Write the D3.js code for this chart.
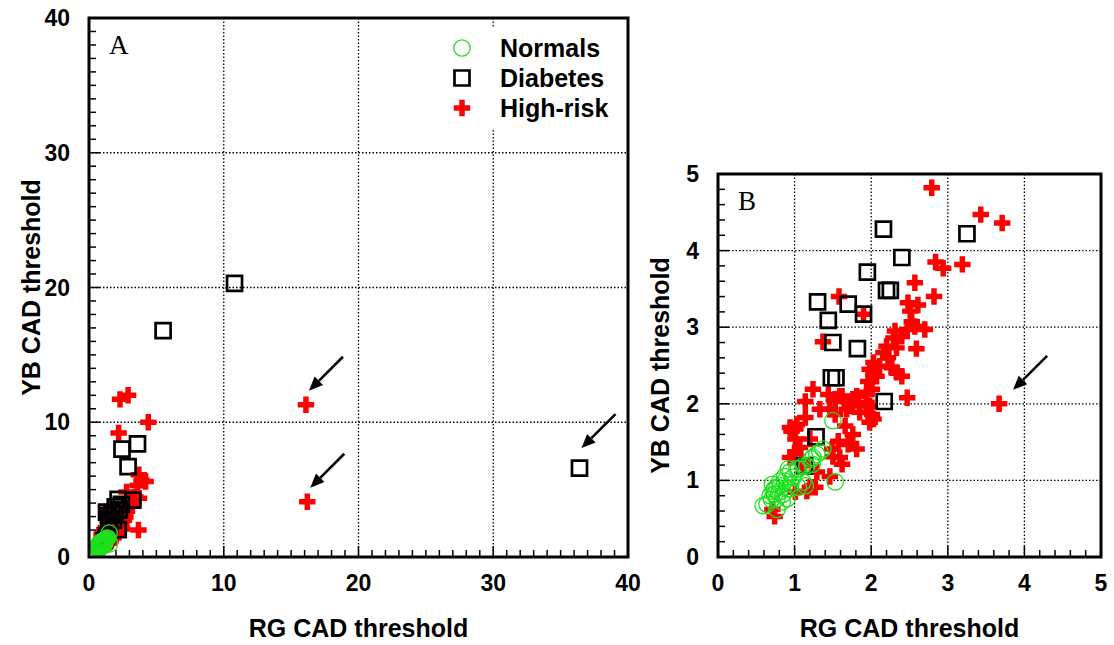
<!DOCTYPE html>
<html>
<head>
<meta charset="utf-8">
<script src="https://cdn.jsdelivr.net/npm/d3@7"></script>
<style>
  html, body { margin: 0; padding: 0; background: #fff; }
  svg text { font-family: "Liberation Sans", Arial, sans-serif; }
</style>
</head>
<body>
<svg id="chart" width="1114" height="645"></svg>
<script>
// Colour-discrimination (CAD) thresholds, RG vs YB, for three groups.
const normalsRG = [1.50,1.37,1.33,1.29,1.24,1.22,1.23,1.16,1.11,1.05,1.03,0.94,0.92,1.53,1.14,1.11,0.98,0.87,0.87,0.81,1.05,0.81,0.77,0.94,0.90,0.74,0.72,0.74,0.85,0.68,0.77,0.90,0.84,0.64,0.59,0.77,0.71,0.80,0.70,0.95];
const normalsYB = [1.78,1.41,1.37,1.34,1.30,1.28,1.21,1.19,1.19,1.15,1.15,1.11,1.15,0.98,0.93,0.98,1.04,1.05,0.99,0.99,0.91,0.93,0.91,0.89,0.89,0.89,0.86,0.82,0.82,0.80,0.76,0.76,0.72,0.69,0.67,0.62,0.95,0.85,0.75,0.95];

const diabetesRG = [2.16,3.25,2.40,1.95,1.30,1.70,2.20,2.25,1.90,1.44,1.50,1.82,1.48,1.54,2.17,1.28,1.13,36.4,10.8,5.5,3.6,2.45,2.9];
const diabetesYB = [4.28,4.22,3.91,3.72,3.33,3.30,3.48,3.48,3.17,3.09,2.80,2.72,2.34,2.34,2.03,1.57,1.19,6.6,20.3,16.8,8.4,8.0,6.7];

const highRiskRG = [2.79,3.43,3.71,2.84,2.94,3.19,2.57,2.82,1.58,1.90,1.37,2.48,2.61,2.51,2.53,2.70,2.57,2.47,2.31,2.40,2.29,2.59,2.20,2.33,2.16,2.22,2.03,2.11,2.27,1.98,2.33,2.40,2.07,2.03,1.96,2.01,2.47,1.62,1.81,1.53,1.72,1.98,2.01,1.46,1.24,1.14,1.44,1.59,1.76,1.94,1.68,1.85,2.03,1.53,1.01,0.94,1.66,1.76,1.70,1.81,1.59,1.57,1.49,1.62,1.29,1.01,1.07,1.20,1.14,1.33,1.94,1.98,1.20,1.01,1.11,0.94,1.03,0.96,1.01,1.09,1.16,0.74,0.71,1.46,1.50,1.27,3.67,16.1,16.2,2.9,2.3,4.4,2.2,3.9,3.7,4.2,3.6];
const highRiskYB = [4.82,4.47,4.36,3.85,3.77,3.82,3.58,3.40,3.40,3.17,2.81,3.32,3.29,3.21,3.07,2.97,3.01,2.97,2.95,2.88,2.86,2.72,2.75,2.73,2.67,2.60,2.54,2.49,2.47,2.45,2.41,2.36,2.36,2.38,2.29,2.19,2.08,2.10,2.10,2.06,1.97,1.97,1.86,1.93,2.19,2.03,2.12,2.10,2.06,2.15,1.93,1.89,1.80,1.86,1.67,1.69,1.71,1.60,1.47,1.41,1.30,1.51,1.41,1.21,1.11,1.54,1.43,1.54,1.82,1.93,2.02,1.76,0.91,0.85,1.19,1.30,1.73,1.64,1.37,1.24,0.86,0.53,0.62,1.05,1.31,0.91,2.00,11.3,4.1,12.0,11.7,10.0,9.2,5.7,6.1,5.6,5.3];

const groupNames = ["Normals", "Diabetes", "High-risk"];

// Outlying cases marked with arrows, per panel.
const arrowsA = [{x: 16.1, y: 11.3, kind: "cross"}, {x: 16.2, y: 4.1, kind: "cross"}, {x: 36.4, y: 6.6, kind: "square"}];
const arrowsB = [{x: 3.67, y: 2.00, kind: "side"}];

const zip = (xs, ys) => xs.map((x, i) => ({x, y: ys[i]}));
const normals = zip(normalsRG, normalsYB);
const diabetes = zip(diabetesRG, diabetesYB);
const highRisk = zip(highRiskRG, highRiskYB);

const svg = d3.select("#chart");
const GREEN = "#1ee01e", RED = "#ff0000";
const crossPath = d3.symbol(d3.symbolCross, 150)();
const squarePath = d3.symbol(d3.symbolSquare, 225)();

function drawMarkers(g, xs, ys, data, kind) {
  if (kind === "cross") {
    g.selectAll(null).data(data).join("path")
      .attr("d", crossPath).attr("fill", RED)
      .attr("transform", d => `translate(${xs(d.x)},${ys(d.y)})`);
  } else if (kind === "square") {
    g.selectAll(null).data(data).join("path")
      .attr("d", squarePath).attr("fill", "none").attr("stroke", "#000").attr("stroke-width", 2.7)
      .attr("transform", d => `translate(${xs(d.x)},${ys(d.y)})`);
  } else {
    g.selectAll(null).data(data).join("circle")
      .attr("cx", d => xs(d.x)).attr("cy", d => ys(d.y)).attr("r", 8.2)
      .attr("fill", "none").attr("stroke", GREEN).attr("stroke-width", 1.3);
  }
}

function drawArrow(g, tx, ty) {
  const sx = tx + 34, sy = ty - 34;
  const ang = Math.atan2(ty - sy, tx - sx);
  const L = 14, W = 6;
  const bx = tx - L * Math.cos(ang), by = ty - L * Math.sin(ang);
  g.append("line").attr("x1", sx).attr("y1", sy).attr("x2", bx).attr("y2", by)
    .attr("stroke", "#000").attr("stroke-width", 2.6);
  const px = -Math.sin(ang) * W, py = Math.cos(ang) * W;
  g.append("path")
    .attr("d", `M${tx},${ty}L${bx + px},${by + py}L${bx - px},${by - py}Z`)
    .attr("fill", "#000");
}

function drawPanel(opt) {
  const {left, top, size, max, major, minor, letter, arrows, legend} = opt;
  const xs = d3.scaleLinear().domain([0, max]).range([left, left + size]);
  const ys = d3.scaleLinear().domain([0, max]).range([top + size, top]);
  const g = svg.append("g");
  const inside = d => d.x <= max && d.y <= max;

  // dotted grid at interior major ticks
  const grid = d3.range(major, max, major);
  g.selectAll(null).data(grid).join("line")
    .attr("x1", d => xs(d)).attr("x2", d => xs(d)).attr("y1", top).attr("y2", top + size)
    .attr("stroke", "#000").attr("stroke-width", 1.3).attr("stroke-dasharray", "1.5,2");
  g.selectAll(null).data(grid).join("line")
    .attr("y1", d => ys(d)).attr("y2", d => ys(d)).attr("x1", left).attr("x2", left + size)
    .attr("stroke", "#000").attr("stroke-width", 1.3).attr("stroke-dasharray", "1.5,2");

  // inward ticks on left and bottom
  const tickVals = d3.range(0, max + minor / 2, minor);
  const isMajor = v => Math.abs(v / major - Math.round(v / major)) < 1e-6;
  g.selectAll(null).data(tickVals).join("line")
    .attr("x1", d => xs(d)).attr("x2", d => xs(d))
    .attr("y1", top + size).attr("y2", d => top + size - (isMajor(d) ? 11 : 7))
    .attr("stroke", "#000").attr("stroke-width", 1.5);
  g.selectAll(null).data(tickVals).join("line")
    .attr("y1", d => ys(d)).attr("y2", d => ys(d))
    .attr("x1", left).attr("x2", d => left + (isMajor(d) ? 11 : 7))
    .attr("stroke", "#000").attr("stroke-width", 1.5);

  // tick labels
  const majors = d3.range(0, max + major / 2, major);
  g.selectAll(null).data(majors).join("text")
    .attr("x", d => xs(d)).attr("y", top + size + 34)
    .attr("text-anchor", "middle").attr("font-size", 23).attr("font-weight", "bold")
    .text(d => d);
  g.selectAll(null).data(majors).join("text")
    .attr("x", left - 19).attr("y", d => ys(d) + 8)
    .attr("text-anchor", "end").attr("font-size", 23).attr("font-weight", "bold")
    .text(d => d);

  // axis titles
  g.append("text").attr("x", left + size / 2).attr("y", top + size + 80)
    .attr("text-anchor", "middle").attr("font-size", 25).attr("font-weight", "bold")
    .text("RG CAD threshold");
  g.append("text")
    .attr("transform", `translate(${left - 49},${top + size / 2}) rotate(-90)`)
    .attr("text-anchor", "middle").attr("font-size", 25).attr("font-weight", "bold")
    .text("YB CAD threshold");

  // legend box (white, hides grid)
  if (legend) {
    const lg = g.append("g");
    lg.append("rect").attr("x", left + 351).attr("y", top + 9).attr("width", 186).attr("height", 101)
      .attr("fill", "#fff");
    const kinds = ["circle", "square", "cross"];
    groupNames.forEach((name, i) => {
      const cy = top + 30 + i * 30;
      const mx = left + 373;
      if (kinds[i] === "circle") {
        lg.append("circle").attr("cx", mx).attr("cy", cy).attr("r", 8.2)
          .attr("fill", "none").attr("stroke", GREEN).attr("stroke-width", 1.3);
      } else if (kinds[i] === "square") {
        lg.append("path").attr("d", squarePath).attr("transform", `translate(${mx},${cy})`)
          .attr("fill", "none").attr("stroke", "#000").attr("stroke-width", 2.7);
      } else {
        lg.append("path").attr("d", crossPath).attr("transform", `translate(${mx},${cy})`)
          .attr("fill", RED);
      }
      lg.append("text").attr("x", left + 411).attr("y", cy + 9)
        .attr("font-size", 25).attr("font-weight", "bold").text(name);
    });
  }

  // markers: crosses, then squares, then circles on top
  drawMarkers(g.append("g"), xs, ys, highRisk.filter(inside), "cross");
  drawMarkers(g.append("g"), xs, ys, diabetes.filter(inside), "square");
  drawMarkers(g.append("g"), xs, ys, normals.filter(inside), "circle");

  // arrows pointing to outlying cases
  arrows.forEach(a => {
    const off = a.kind === "square" ? [2, -20] : a.kind === "side" ? [14, -14] : [3, -14];
    drawArrow(g, xs(a.x) + off[0], ys(a.y) + off[1]);
  });

  // frame
  g.append("rect").attr("x", left).attr("y", top).attr("width", size).attr("height", size)
    .attr("fill", "none").attr("stroke", "#000").attr("stroke-width", 3);

  // panel letter
  g.append("text").attr("x", left + 20).attr("y", top + 36)
    .style("font-family", "'Liberation Serif', 'Times New Roman', serif")
    .attr("font-size", 27).text(letter);
}

drawPanel({left: 89, top: 18, size: 539, max: 40, major: 10, minor: 1, letter: "A", arrows: arrowsA, legend: true});
drawPanel({left: 718, top: 174, size: 383, max: 5, major: 1, minor: 0.2, letter: "B", arrows: arrowsB, legend: false});
</script>
</body>
</html>
